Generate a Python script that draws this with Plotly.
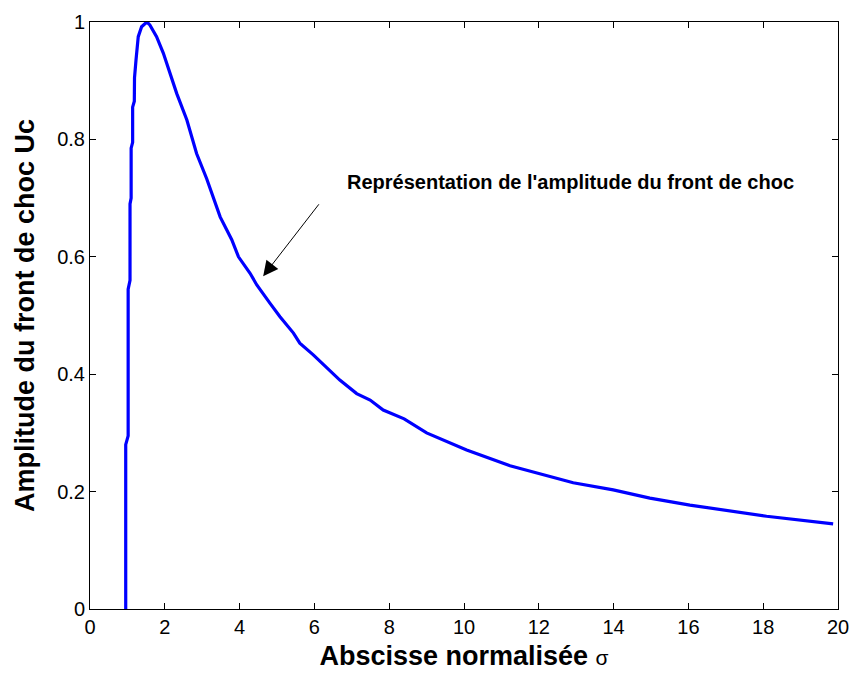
import plotly.graph_objects as go

sigma = [0.955, 0.955, 1.02, 1.02, 1.07, 1.07, 1.10, 1.10, 1.14, 1.14, 1.185, 1.19, 1.23, 1.29, 1.38, 1.52,
         1.60, 1.78, 1.96, 2.14, 2.32, 2.59, 2.85, 3.12, 3.30, 3.48, 3.79, 3.97, 4.28, 4.46, 4.81, 5.08,
         5.44, 5.61, 5.97, 6.24, 6.68, 7.13, 7.49, 7.84, 8.40, 9.0, 9.45, 10.07, 11.23, 12.12, 12.92,
         13.99, 14.97, 16.04, 17.20, 18.09, 19.87]
uc = [0.0, 0.28, 0.295, 0.545, 0.56, 0.69, 0.70, 0.785, 0.795, 0.855, 0.865, 0.905, 0.935, 0.975, 0.992, 1.0,
      0.995, 0.975, 0.947, 0.912, 0.878, 0.833, 0.776, 0.733, 0.702, 0.668, 0.629, 0.600, 0.572, 0.552, 0.521, 0.498,
      0.470, 0.453, 0.433, 0.416, 0.390, 0.367, 0.356, 0.339, 0.324, 0.300, 0.288, 0.271, 0.244, 0.228, 0.215,
      0.203, 0.189, 0.177, 0.166, 0.158, 0.145]

annot_text = "Représentation de l'amplitude du front de choc"
arrow_tip = (4.63, 0.567)
arrow_tail = (6.15, 0.692)
text_pos = (12.85, 0.727)

FONT = "Liberation Sans, Arial"

fig = go.Figure()
fig.add_trace(go.Scatter(x=sigma, y=uc, mode="lines",
                         line=dict(color="#0000ff", width=3.2), showlegend=False))

fig.add_annotation(x=arrow_tip[0], y=arrow_tip[1], ax=arrow_tail[0], ay=arrow_tail[1],
                   axref="x", ayref="y", xref="x", yref="y", text="",
                   showarrow=True, arrowhead=2, arrowsize=3, arrowwidth=1, arrowcolor="black")
fig.add_annotation(x=text_pos[0], y=text_pos[1], xref="x", yref="y", text="<b>" + annot_text + "</b>",
                   showarrow=False, font=dict(family=FONT, size=20, color="black"))

axis_common = dict(showgrid=False, zeroline=False, showline=True, linecolor="black", linewidth=1,
                   mirror="ticks", ticks="inside", ticklen=6, tickcolor="black", automargin=False,
                   tickfont=dict(family=FONT, size=20, color="black"))

fig.update_xaxes(range=[0, 20], dtick=2, tick0=0,
                 title=dict(text="<b>Abscisse normalisée </b><span style='font-size:21px'>σ</span>",
                            font=dict(family=FONT, size=27, color="black"),
                            standoff=9),
                 **axis_common)
fig.update_yaxes(range=[0, 1], dtick=0.2, tick0=0,
                 title=dict(text="<b>Amplitude du front de choc Uc</b>",
                            font=dict(family=FONT, size=27, color="black"),
                            standoff=14),
                 **axis_common)

fig.update_layout(width=851, height=673, margin=dict(l=90, r=13, t=22, b=64),
                  plot_bgcolor="white", paper_bgcolor="white")

fig.write_html("out.html")
